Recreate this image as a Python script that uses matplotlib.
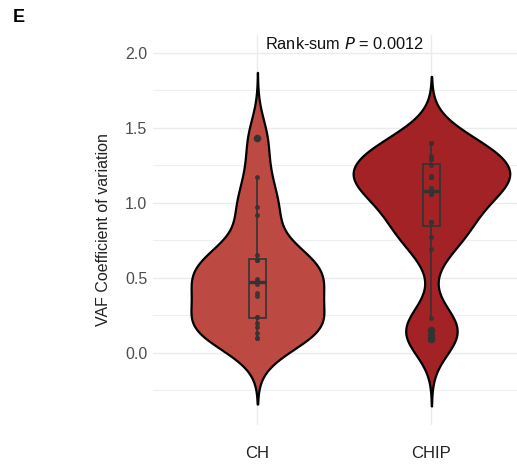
import numpy as np
import matplotlib
matplotlib.use("Agg")
import matplotlib.pyplot as plt
from matplotlib.ticker import MultipleLocator

plt.rcParams["font.family"] = ["Liberation Sans", "DejaVu Sans"]

# per-sample VAF coefficient of variation
groups = ["CH", "CHIP"]
ch_cv = [0.10, 0.10, 0.13, 0.17, 0.20, 0.24, 0.24, 0.38, 0.40, 0.46,
         0.48, 0.49, 0.62, 0.62, 0.62, 0.65, 0.92, 0.97, 1.17, 1.43]
chip_cv = [0.09, 0.12, 0.15, 0.23, 0.69, 0.77, 0.87, 0.87, 0.87, 1.06,
           1.06, 1.06, 1.10, 1.17, 1.17, 1.17, 1.18, 1.25, 1.29, 1.29,
           1.31, 1.40, 1.40, 1.40]
fills = ["#BC4A42", "#A22226"]
p_label = "Rank-sum $\\it{P}$ = 0.0012"


def bw_nrd0(x):
    x = np.asarray(x)
    iqr = np.subtract(*np.percentile(x, [75, 25]))
    lo = min(np.std(x, ddof=1), iqr / 1.34)
    return 0.9 * lo * len(x) ** -0.2


def kde(x, bw):
    x = np.asarray(x)
    grid = np.linspace(x.min() - 3 * bw, x.max() + 3 * bw, 512)
    d = np.exp(-0.5 * ((grid[:, None] - x[None, :]) / bw) ** 2).sum(axis=1)
    d /= len(x) * bw * np.sqrt(2 * np.pi)
    return grid, d


data = [ch_cv, chip_cv]
dens = [kde(v, bw_nrd0(v)) for v in data]
dmax = max(d.max() for _, d in dens)

fig = plt.figure(figsize=(5.17, 4.65), dpi=100)
ax = fig.add_axes([0.296, 0.086, 0.704, 0.839])

# violins scaled to equal area, widest one fills 0.9 of a slot
for i, ((grid, d), col) in enumerate(zip(dens, fills)):
    pos = i + 1
    half = 0.45 * d / dmax
    ax.fill_betweenx(grid, pos - half, pos + half, facecolor=col,
                     edgecolor="black", linewidth=1.6, zorder=2)

box_col = "#333333"
ax.boxplot(data, positions=[1, 2], widths=0.1, whis=1.5, patch_artist=True,
           boxprops=dict(facecolor="none", edgecolor=box_col, linewidth=1.2),
           medianprops=dict(color=box_col, linewidth=2.4),
           whiskerprops=dict(color=box_col, linewidth=1.2),
           capprops=dict(linewidth=0),
           flierprops=dict(marker="o", markersize=4.5, markerfacecolor=box_col,
                           markeredgecolor=box_col, alpha=0.9),
           zorder=3)

for i, v in enumerate(data):
    ax.plot(np.full(len(v), i + 1), v, "o", color=box_col, markersize=2.6,
            alpha=0.8, zorder=4)

ax.set_xlim(0.4, 0.4 + 0.704 * 517 / 174)
ax.set_ylim(-0.48, 2.12)
ax.set_xticks([1, 2])
ax.set_xticklabels(groups)
ax.yaxis.set_major_locator(MultipleLocator(0.5))
ax.yaxis.set_minor_locator(MultipleLocator(0.25))
ax.yaxis.set_major_formatter(lambda y, p: f"{y:.1f}")

ax.grid(True, which="major", color="#EBEBEB", linewidth=1.0, zorder=0)
ax.grid(True, which="minor", axis="y", color="#EFEFEF", linewidth=0.8, zorder=0)
for s in ax.spines.values():
    s.set_visible(False)
ax.tick_params(which="both", length=0)
ax.tick_params(axis="y", labelsize=11.5, labelcolor="#4D4D4D", pad=4)
ax.tick_params(axis="x", labelsize=12, labelcolor="#222222", pad=15)
ax.set_ylabel("VAF Coefficient of variation", fontsize=11.5, color="#222222",
              labelpad=10)

ax.text(1.5, 2.027, p_label, ha="center", va="baseline", fontsize=11.8,
        color="#111111")
fig.text(0.025, 0.962, "E", fontsize=13, fontweight="bold", ha="left", va="center")

fig.savefig("out.png", dpi=100)
